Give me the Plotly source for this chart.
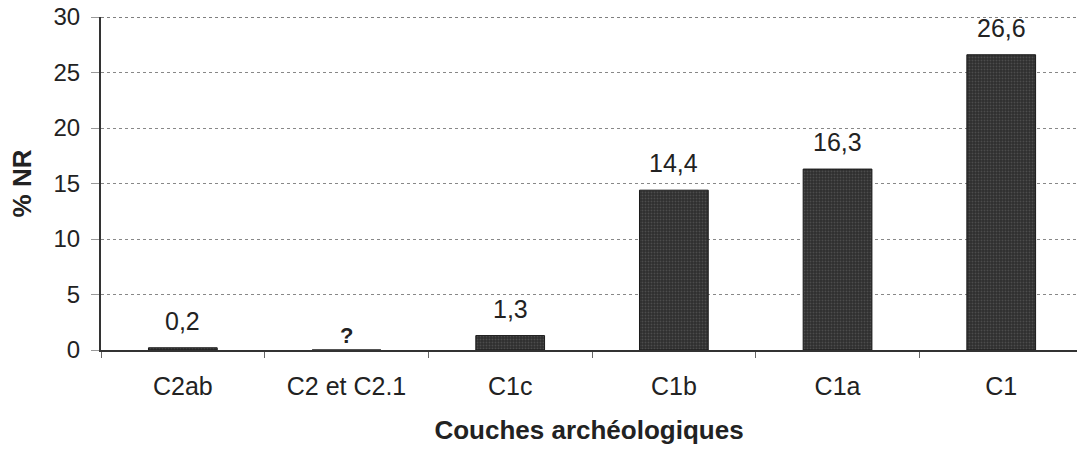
import plotly.graph_objects as go

categories = ["C2ab", "C2 et C2.1", "C1c", "C1b", "C1a", "C1"]
values = [0.2, 0.0, 1.3, 14.4, 16.3, 26.6]
bar_labels = ["0,2", "?", "1,3", "14,4", "16,3", "26,6"]
y_ticks = [0, 5, 10, 15, 20, 25, 30]

FONT = "Liberation Sans, Arial, sans-serif"

fig = go.Figure()
fig.add_trace(go.Bar(
    x=categories, y=values, width=0.42,
    marker=dict(color="#3a3a3a", line=dict(color="#1a1a1a", width=1),
                pattern=dict(shape=".", fgcolor="#6a6a6a", bgcolor="#2e2e2e", size=3, solidity=0.3)),
    showlegend=False, hoverinfo="skip",
))

for cat, v, lab in zip(categories, values, bar_labels):
    fig.add_annotation(
        x=cat, y=v, text=("<b>%s</b>" % lab) if lab == "?" else lab,
        showarrow=False, yanchor="bottom", yshift=(0 if lab == "?" else 11),
        font=dict(family=FONT, size=(22 if lab == "?" else 25), color="#222"),
    )

fig.update_layout(
    width=1077, height=451,
    margin=dict(l=101, r=0, t=17, b=101),
    paper_bgcolor="white", plot_bgcolor="white",
    font=dict(family=FONT, size=24, color="#222"),
)
fig.update_xaxes(
    type="category", range=[-0.5, 5.463], automargin=False,
    showline=True, linecolor="#333", linewidth=2,
    ticks="outside", tickson="boundaries", ticklen=6, tickcolor="#666",
    tickfont=dict(size=25), ticklabelstandoff=13,
    title=dict(text="<b>Couches archéologiques</b>", font=dict(size=26), standoff=22),
    showgrid=False,
)
fig.update_yaxes(
    range=[0, 30], tickvals=y_ticks, automargin=False,
    showline=True, linecolor="#333", linewidth=2,
    ticks="outside", ticklen=8, tickcolor="#999",
    tickfont=dict(size=24), ticklabelstandoff=6,
    showgrid=True, gridcolor="#888", griddash="dot", gridwidth=1,
    zeroline=False,
    title=dict(text="<b>% NR</b>", font=dict(size=26), standoff=14),
)
fig.add_shape(type="line", xref="paper", yref="y", x0=0, x1=1, y0=30, y1=30,
              line=dict(color="#555", width=1.5, dash="dot"))

fig.write_html("out.html", config={"displayModeBar": False},
               post_script="document.body.style.margin='0';")
